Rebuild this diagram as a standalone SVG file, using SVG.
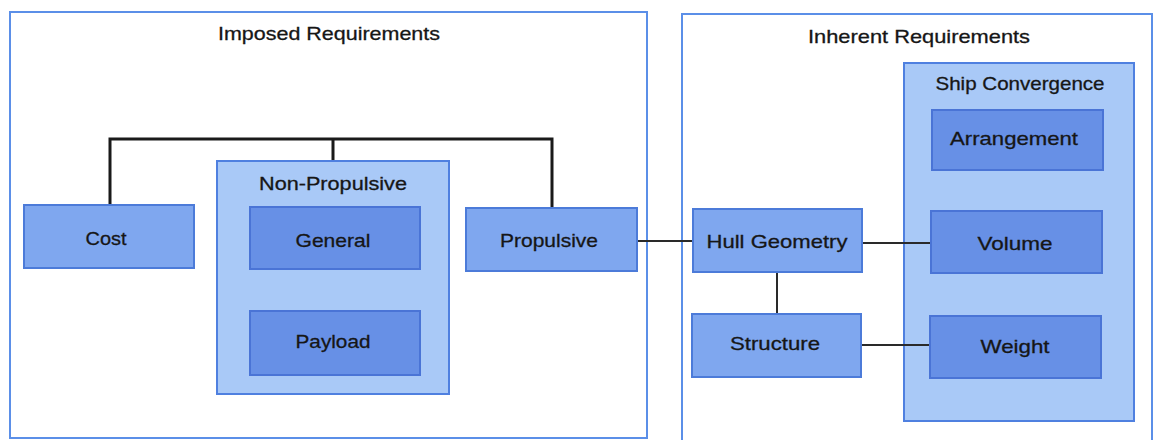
<svg xmlns="http://www.w3.org/2000/svg" width="1154" height="440" viewBox="0 0 1154 440">
<style>
.outer{fill:#ffffff;stroke:#5b8fe8;stroke-width:2}
.grp{fill:#a9c9f7;stroke:#4f80e0;stroke-width:2}
.mid{fill:#7fa7ef;stroke:#4c7bd9;stroke-width:2}
.dark{fill:#6790e6;stroke:#4a74d6;stroke-width:2}
text{font-family:"Liberation Sans",Arial,sans-serif;font-size:19px;fill:#161616;text-anchor:middle;stroke:#161616;stroke-width:0.3}
.tree{fill:none;stroke:#1a1a1a;stroke-width:3}
.link{fill:none;stroke:#2a2a2a;stroke-width:2}
</style>
<rect width="1154" height="440" fill="#ffffff"/>
<g id="imposed">
<rect class="outer" x="10" y="12" width="637" height="426"/>
<text x="329" y="40" textLength="222" lengthAdjust="spacingAndGlyphs">Imposed Requirements</text>
</g>
<g id="inherent">
<rect class="outer" x="682" y="14" width="470" height="430"/>
<text x="919" y="43" textLength="222" lengthAdjust="spacingAndGlyphs">Inherent Requirements</text>
</g>
<g id="cost">
<rect class="mid" x="24" y="205" width="170" height="63"/>
<text x="106" y="245" textLength="41" lengthAdjust="spacingAndGlyphs">Cost</text>
</g>
<g id="non-propulsive">
<rect class="grp" x="217" y="161" width="232" height="233"/>
<text x="333" y="190" textLength="148" lengthAdjust="spacingAndGlyphs">Non-Propulsive</text>
</g>
<g id="general">
<rect class="dark" x="250" y="207" width="170" height="62"/>
<text x="333" y="247" textLength="75" lengthAdjust="spacingAndGlyphs">General</text>
</g>
<g id="payload">
<rect class="dark" x="250" y="311" width="170" height="64"/>
<text x="333" y="348" textLength="75" lengthAdjust="spacingAndGlyphs">Payload</text>
</g>
<g id="propulsive">
<rect class="mid" x="466" y="208" width="171" height="63"/>
<text x="549" y="247" textLength="98" lengthAdjust="spacingAndGlyphs">Propulsive</text>
</g>
<g id="hull-geometry">
<rect class="mid" x="693" y="209" width="169" height="63"/>
<text x="777" y="248" textLength="141" lengthAdjust="spacingAndGlyphs">Hull Geometry</text>
</g>
<g id="structure">
<rect class="mid" x="692" y="314" width="169" height="63"/>
<text x="775" y="350" textLength="90" lengthAdjust="spacingAndGlyphs">Structure</text>
</g>
<g id="ship-convergence">
<rect class="grp" x="904" y="63" width="230" height="358"/>
<text x="1020" y="90" textLength="169" lengthAdjust="spacingAndGlyphs">Ship Convergence</text>
</g>
<g id="arrangement">
<rect class="dark" x="932" y="110" width="171" height="60"/>
<text x="1014" y="145" textLength="128" lengthAdjust="spacingAndGlyphs">Arrangement</text>
</g>
<g id="volume">
<rect class="dark" x="931" y="211" width="171" height="62"/>
<text x="1015" y="250" textLength="75" lengthAdjust="spacingAndGlyphs">Volume</text>
</g>
<g id="weight">
<rect class="dark" x="930" y="316" width="171" height="62"/>
<text x="1015" y="353" textLength="69" lengthAdjust="spacingAndGlyphs">Weight</text>
</g>
<g id="connectors">
<path class="tree" d="M110 204V139H552V207M333 139V160"/>
<path class="link" d="M638 241H692"/>
<path class="link" d="M777 273V313"/>
<path class="link" d="M863 243H930"/>
<path class="link" d="M862 345H929"/>
</g>
</svg>
